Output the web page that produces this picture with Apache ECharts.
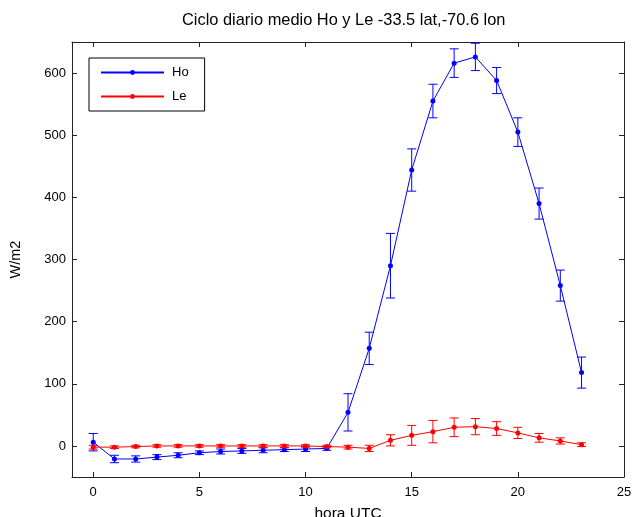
<!DOCTYPE html>
<html>
<head>
<meta charset="utf-8">
<script src="https://cdn.jsdelivr.net/npm/echarts@6/dist/echarts.min.js"></script>
<style>
  html, body { margin: 0; padding: 0; background: #fff; }
  #chart { width: 632px; height: 517px; }
</style>
</head>
<body>
<div id="chart"></div>
<script>
// Hour of day (UTC)
const hours = [0, 1, 2, 3, 4, 5, 6, 7, 8, 9, 10, 11, 12, 13, 14, 15, 16, 17, 18, 19, 20, 21, 22, 23];
// Sensible heat flux Ho: hourly mean and error half-width (W/m2)
const hoMean = [6, -21, -21, -18, -15, -11, -9, -8, -7, -6, -5, -4, 54, 157, 290, 444, 555, 616, 626, 588, 505, 390, 258, 118];
const hoErr  = [14, 6, 5, 4, 4, 3, 4, 4, 4, 3, 4, 3, 30, 26, 52, 34, 27, 23, 22, 21, 23, 25, 25, 25];
// Latent heat flux Le: hourly mean and error half-width (W/m2)
const leMean = [-2, -2, -1, 0, 0, 0, 0, 0, 0, 0, 0, -1, -2, -4, 9, 17, 23, 30, 31, 28, 21, 13, 8, 2];
const leErr  = [3, 2, 2, 2, 2, 2, 2, 2, 2, 2, 2, 2, 3, 5, 9, 16, 18, 15, 13, 11, 9, 7, 5, 3];
// Axis ticks
const xTicks = [0, 5, 10, 15, 20, 25];
const yTicks = [0, 100, 200, 300, 400, 500, 600];

const FONT = '"Liberation Sans", Arial, Helvetica, sans-serif';
const AXIS_COLOR = '#222';

// Vertical error bar with caps at mean ± err
function errorBars(mean, err, color) {
  return {
    type: 'custom',
    silent: true,
    z: 3,
    data: hours.map((h, i) => [h, mean[i] - err[i], mean[i] + err[i]]),
    encode: { x: 0, y: [1, 2] },
    renderItem(params, api) {
      const x = api.value(0);
      const lo = api.coord([x, api.value(1)]);
      const hi = api.coord([x, api.value(2)]);
      const hw = 4.5;
      const style = { stroke: color, lineWidth: 1, fill: null };
      return {
        type: 'group',
        children: [
          { type: 'line', shape: { x1: lo[0], y1: lo[1], x2: hi[0], y2: hi[1] }, style },
          { type: 'line', shape: { x1: lo[0] - hw, y1: lo[1], x2: lo[0] + hw, y2: lo[1] }, style },
          { type: 'line', shape: { x1: hi[0] - hw, y1: hi[1], x2: hi[0] + hw, y2: hi[1] }, style }
        ]
      };
    }
  };
}

function lineSeries(name, mean, color) {
  return {
    type: 'line',
    name,
    data: hours.map((h, i) => [h, mean[i]]),
    symbol: 'circle',
    symbolSize: 5,
    showSymbol: true,
    lineStyle: { color, width: 1 },
    itemStyle: { color },
    z: 4,
    animation: false
  };
}

const tickStyle = (vals) => ({ inside: true, length: 5, customValues: vals, lineStyle: { color: AXIS_COLOR } });
const lineStyleAxis = { onZero: false, lineStyle: { color: AXIS_COLOR, width: 1 } };

const chart = echarts.init(document.getElementById('chart'), null, { renderer: 'canvas' });
chart.setOption({
  animation: false,
  backgroundColor: '#fff',
  textStyle: { fontFamily: FONT },
  title: {
    text: 'Ciclo diario medio Ho y Le -33.5 lat,-70.6 lon',
    left: 182,
    top: 12,
    padding: 0,
    textStyle: { fontFamily: FONT, fontSize: 16.4, fontWeight: 'normal', color: '#000' }
  },
  legend: {
    data: ['Ho', 'Le'],
    orient: 'vertical',
    left: 89,
    top: 58,
    padding: [8, 16, 8, 11],
    itemWidth: 63,
    itemHeight: 6,
    itemGap: 11,
    borderColor: '#000',
    borderWidth: 1,
    backgroundColor: '#fff',
    textStyle: { fontFamily: FONT, fontSize: 13, color: '#000', padding: [0, 0, 0, 3] }
  },
  grid: { left: 72, right: 8, top: 42, bottom: 40, containLabel: false, outerBoundsMode: 'none' },
  xAxis: [
    {
      type: 'value', min: -1, max: 25, position: 'bottom',
      name: 'hora UTC', nameLocation: 'middle', nameGap: 29,
      nameTextStyle: { fontFamily: FONT, fontSize: 15.5, color: '#000' },
      axisLine: lineStyleAxis,
      axisTick: tickStyle(xTicks),
      axisLabel: { customValues: xTicks, fontFamily: FONT, fontSize: 13, color: '#000', margin: 9 },
      splitLine: { show: false }
    },
    {
      type: 'value', min: -1, max: 25, position: 'top',
      axisLine: lineStyleAxis,
      axisTick: tickStyle(xTicks),
      axisLabel: { show: false },
      splitLine: { show: false }
    }
  ],
  yAxis: [
    {
      type: 'value', min: -50, max: 650, position: 'left',
      name: 'W/m2', nameLocation: 'middle', nameGap: 49,
      nameTextStyle: { fontFamily: FONT, fontSize: 14.5, color: '#000' },
      axisLine: lineStyleAxis,
      axisTick: tickStyle(yTicks),
      axisLabel: { customValues: yTicks, fontFamily: FONT, fontSize: 13, color: '#000', margin: 6 },
      splitLine: { show: false }
    },
    {
      type: 'value', min: -50, max: 650, position: 'right',
      axisLine: lineStyleAxis,
      axisTick: tickStyle(yTicks),
      axisLabel: { show: false },
      splitLine: { show: false }
    }
  ],
  series: [
    errorBars(hoMean, hoErr, '#0000ff'),
    lineSeries('Ho', hoMean, '#0000ff'),
    errorBars(leMean, leErr, '#ff0000'),
    lineSeries('Le', leMean, '#ff0000')
  ]
});
</script>
</body>
</html>
